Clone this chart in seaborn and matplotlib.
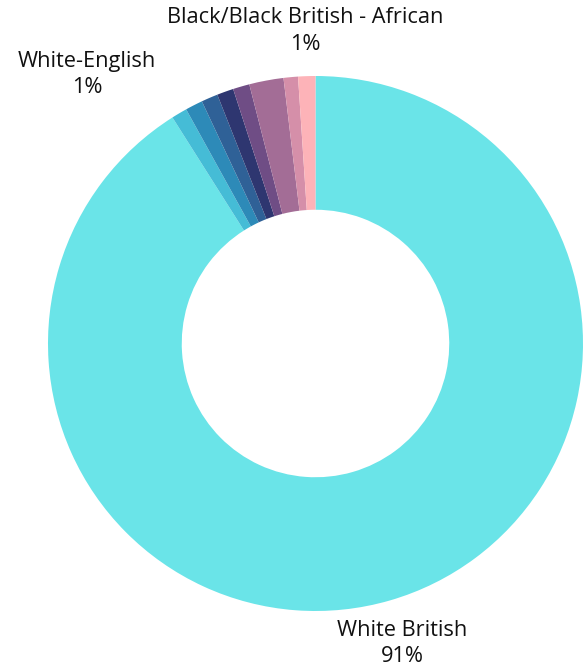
import matplotlib
matplotlib.use("Agg")
import matplotlib.pyplot as plt
import seaborn as sns

sns.set_style("white")
plt.rcParams['font.family'] = ['Open Sans', 'DejaVu Sans']

categories = [
    "White British",
    "White-English",
    "Other White background",
    "Mixed - White and Black Caribbean",
    "Asian/Asian British - Indian",
    "Asian/Asian British - Pakistani",
    "Other / not stated",
    "Mixed - Other",
    "Black/Black British - African",
]
values = [91.0, 0.95, 1.05, 1.0, 1.0, 1.0, 2.07, 0.87, 1.04]
display_pct = ["91%", "1%", "", "", "", "", "", "", "1%"]
show_label = [True, True, False, False, False, False, False, False, True]
colors = ["#6ae4e8", "#45bcd6", "#2d8ab8", "#2f6197", "#2e3670",
          "#6f4d85", "#a36d96", "#d58fa9", "#fdb3b8"]

W, H = 584, 672
fig = plt.figure(figsize=(W / 100, H / 100), dpi=100)
ax = fig.add_axes([0, 0, 1, 1])

labels = [f"{c}\n{p}" if s else "" for c, p, s in zip(categories, display_pct, show_label)]

cx, cy, R = 315.5, H - 343.5, 267.5
wedges, texts = ax.pie(
    values, labels=labels, colors=colors, startangle=90, counterclock=False,
    center=(cx, cy), radius=R, labeldistance=1.168,
    wedgeprops=dict(width=R * 0.5, linewidth=0),
    textprops=dict(ha="center", va="center", fontsize=15.7, color="#111111",
                   linespacing=1.35),
)
# White-English label is nudged left to avoid its neighbours
texts[1].set_x(87)

ax.set_xlim(0, W)
ax.set_ylim(0, H)
ax.set_aspect("equal")
ax.axis("off")
fig.savefig("out.png", dpi=100, facecolor="white")
